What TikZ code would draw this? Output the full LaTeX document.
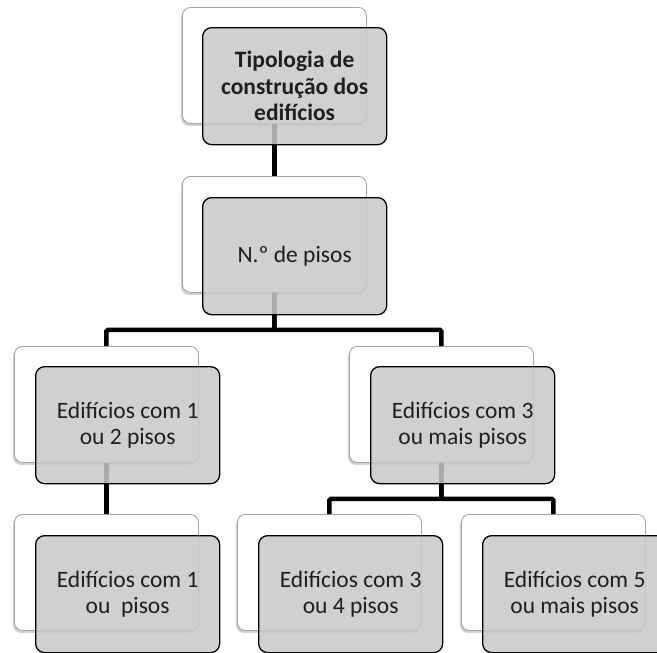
\documentclass[tikz,border=0pt]{standalone}
\usepackage{fontspec}
\setmainfont{Carlito}
\usetikzlibrary{shadows}
\begin{document}
\begin{tikzpicture}[x=1pt,y=-1pt,
 backbox/.style={draw={rgb,255:red,165;green,165;blue,165}, line width=0.9pt, fill=white, rounded corners=8pt,
   minimum width=184pt, minimum height=116pt, anchor=north west, inner sep=0pt,
   drop shadow={shadow xshift=-1.5pt, shadow yshift=-2.5pt, opacity=0.3, fill=black!60}},
 frontbox/.style={draw=black, line width=1.3pt, fill={rgb,255:red,200;green,200;blue,200}, fill opacity=0.85,
   text opacity=1, rounded corners=9pt, minimum width=184pt, minimum height=117pt, anchor=north west,
   inner sep=0pt, align=center, font=\fontsize{23.5}{26.5}\selectfont, text=black!88},
 link/.style={line width=4.5pt, draw=black, rounded corners=1.5pt}]
\useasboundingbox (0,0) rectangle (657,653);
% back boxes
\node[backbox] (w1) at (182,7) {};
\node[backbox] (w2) at (182,176) {};
\node[backbox] (w3l) at (14,346) {};
\node[backbox] (w3r) at (349,346) {};
\node[backbox] (w4l) at (14,514) {};
\node[backbox] (w4m) at (237,514) {};
\node[backbox] (w4r) at (461,514) {};
% connectors
\draw[link] (w1.south) -- (w2.north);
\draw[link] (w2.south) -- ++(0,37) -| (w3l.north);
\draw[link] (w2.south) -- ++(0,37) -| (w3r.north);
\draw[link] (w3l.south) -- (w4l.north);
\draw[link] (w3r.south) -- ++(0,36) -| (w4m.north);
\draw[link] (w3r.south) -- ++(0,36) -| (w4r.north);
% front boxes
\node[frontbox, font=\fontsize{23.5}{26.5}\selectfont\bfseries] (g1) at (202,27) {Tipologia de\\construção dos\\edifícios};
\node[frontbox] (g2) at (202,197) {N.º de pisos};
\node[frontbox] (g3l) at (35,366) {Edifícios com 1\\ou 2 pisos};
\node[frontbox] (g3r) at (370,366) {Edifícios com 3\\ou mais pisos};
\node[frontbox] (g4l) at (35,535) {Edifícios com 1\\ou\ \ pisos};
\node[frontbox] (g4m) at (258,535) {Edifícios com 3\\ou 4 pisos};
\node[frontbox] (g4r) at (482,535) {Edifícios com 5\\ou mais pisos};
\end{tikzpicture}
\end{document}
